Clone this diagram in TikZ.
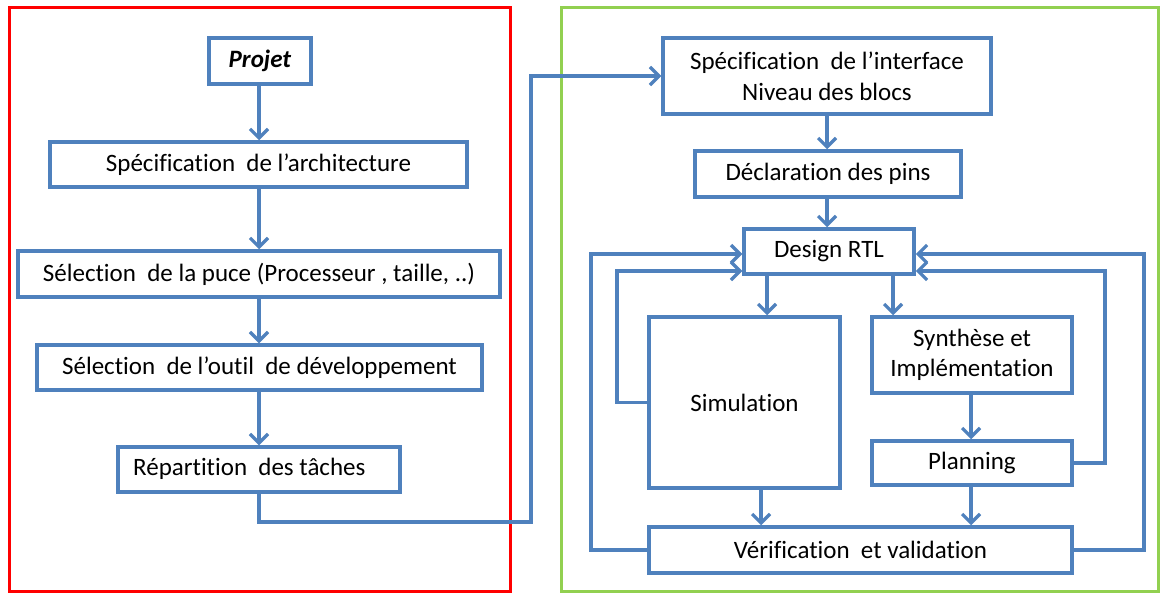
\documentclass[tikz,border=0pt]{standalone}
\usepackage{fontspec}
\setmainfont[Ligatures=NoCommon]{Carlito}
\usetikzlibrary{arrows.meta,calc}
\definecolor{lblue}{HTML}{4F81BD}
\definecolor{fgreen}{HTML}{92D050}
\tikzset{
  box/.style={draw=lblue, line width=3.5pt, rectangle, inner sep=0pt, font=\fontsize{25}{30}\selectfont, text=black, fill=white},
  arr/.style={draw=lblue, line width=3.2pt, -{Straight Barb[length=9pt,width=18pt,line width=3.2pt]}},
}
\newcommand{\bx}[6]{\node[box, minimum width=#3-#2, minimum height=#5-#4, align=center] (#1) at ({(#2+#3)/2},{(#4+#5)/2}) {#6};}
\begin{document}
\begin{tikzpicture}[x=1pt,y=-1pt]
\useasboundingbox (0,0) rectangle (1161,594);
\fill[white] (0,0) rectangle (1161,594);
% frames
\draw[red, line width=3pt] (9,8) rectangle (510,591);
\draw[fgreen, line width=3pt] (561,8) rectangle (1158,591);
% left column
\bx{projet}{209}{311}{38}{84}{\textbf{\textit{Projet}}}
\bx{arch}{50}{467}{142}{187}{Spécification\ \ de l’architecture}
\bx{puce}{18}{500}{251}{297}{Sélection\ \ de la puce (Processeur , taille, ..)}
\bx{outil}{37}{482}{345}{390}{Sélection\ \ de l’outil\ \ de développement}
\bx{rep}{118}{400}{447}{492}{\phantom{x}}
\node[font=\fontsize{25}{30}\selectfont, anchor=west, inner sep=0pt] (reptxt) at (133,469) {Répartition\ \ des tâches};
\coordinate (lx) at (259,0);
\draw[arr] (projet.south -| lx) -- (arch.north -| lx);
\draw[arr] (arch.south -| lx) -- (puce.north -| lx);
\draw[arr] (puce.south -| lx) -- (outil.north -| lx);
\draw[arr] (outil.south -| lx) -- (rep.north -| lx);
% right column
\bx{spec}{663}{991}{38}{114}{Spécification\ \ de l’interface\\[1pt]Niveau des blocs}
\bx{pins}{695}{961}{151}{197}{Déclaration des pins}
\bx{rtl}{744}{914}{229}{274}{Design RTL}
\bx{sim}{649}{840}{317}{488}{Simulation}
\bx{syn}{872}{1072}{317}{393}{Synthèse et\\Implémentation}
\bx{plan}{872}{1072}{441}{485}{Planning}
\bx{ver}{649}{1072}{527}{573}{Vérification\ \ et validation}
% cross connector
\coordinate (c1) at (531,522);
\draw[arr] (rep.south -| lx) |- (c1) |- (spec.west);
\coordinate (rx) at (827,0);
\draw[arr] (spec.south -| rx) -- (pins.north -| rx);
\draw[arr] (pins.south -| rx) -- (rtl.north -| rx);
\coordinate (sx) at (767,0);
\coordinate (tx) at (893,0);
\draw[arr] (rtl.south -| sx) -- (sim.north -| sx);
\draw[arr] (rtl.south -| tx) -- (syn.north -| tx);
\coordinate (px) at (971,0);
\draw[arr] (syn.south -| px) -- (plan.north -| px);
\draw[arr] (plan.south -| px) -- (ver.north -| px);
\coordinate (vx) at (761,0);
\draw[arr] (sim.south -| vx) -- (ver.north -| vx);
% feedback loops
\coordinate (ol) at (591,254);
\coordinate (il) at (617,271);
\coordinate (or) at (1144,254);
\coordinate (ir) at (1105,271);
\draw[arr] (ver.west) -| (ol) -- (rtl.west |- ol);
\draw[arr] (sim.west) -| (il) -- (rtl.west |- il);
\draw[arr] (ver.east) -| (or) -- (rtl.east |- or);
\draw[arr] (plan.east) -| (ir) -- (rtl.east |- ir);
\end{tikzpicture}
\end{document}
